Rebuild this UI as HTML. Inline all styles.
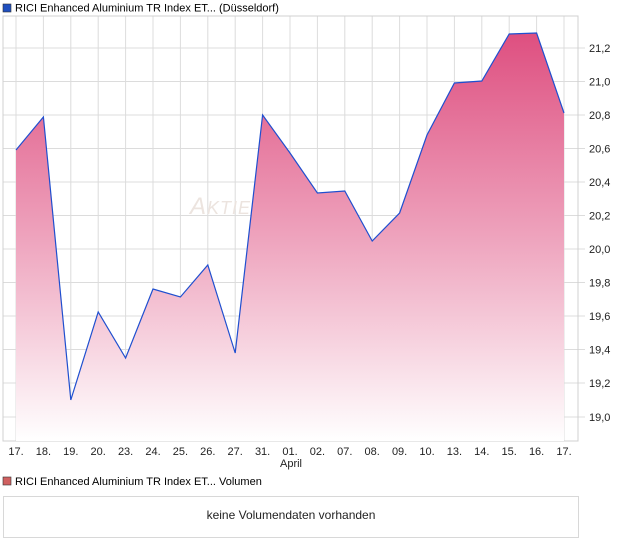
<!DOCTYPE html>
<html><head><meta charset="utf-8"><style>
body{margin:0;background:#fff;width:620px;height:546px;overflow:hidden;font-family:"Liberation Sans",sans-serif}
</style></head><body>
<svg width="620" height="546" xmlns="http://www.w3.org/2000/svg" font-family="Liberation Sans, sans-serif" font-size="11">
<defs><linearGradient id="g" x1="0" y1="33" x2="0" y2="441" gradientUnits="userSpaceOnUse">
<stop offset="0" stop-color="#de4f80"/><stop offset="0.5" stop-color="#eea3bd"/><stop offset="1" stop-color="#ffffff"/></linearGradient></defs>
<rect x="3" y="4" width="8" height="8" fill="#1f4fbf" stroke="#333" stroke-width="0.6"/>
<text x="15" y="11.5">RICI Enhanced Aluminium TR Index ET... (Düsseldorf)</text>
<g stroke="#dcdcdc" stroke-width="1">
<line x1="3" y1="48" x2="585" y2="48"/><line x1="3" y1="81.5" x2="585" y2="81.5"/><line x1="3" y1="115" x2="585" y2="115"/><line x1="3" y1="148.5" x2="585" y2="148.5"/><line x1="3" y1="182" x2="585" y2="182"/><line x1="3" y1="215.5" x2="585" y2="215.5"/><line x1="3" y1="249" x2="585" y2="249"/><line x1="3" y1="282.5" x2="585" y2="282.5"/><line x1="3" y1="316" x2="585" y2="316"/><line x1="3" y1="349.5" x2="585" y2="349.5"/><line x1="3" y1="383" x2="585" y2="383"/><line x1="3" y1="417" x2="585" y2="417"/>
<line x1="16" y1="16" x2="16" y2="441"/><line x1="43.4" y1="16" x2="43.4" y2="441"/><line x1="70.8" y1="16" x2="70.8" y2="441"/><line x1="98.2" y1="16" x2="98.2" y2="441"/><line x1="125.6" y1="16" x2="125.6" y2="441"/><line x1="153" y1="16" x2="153" y2="441"/><line x1="180.4" y1="16" x2="180.4" y2="441"/><line x1="207.8" y1="16" x2="207.8" y2="441"/><line x1="235.2" y1="16" x2="235.2" y2="441"/><line x1="262.6" y1="16" x2="262.6" y2="441"/><line x1="290" y1="16" x2="290" y2="441"/><line x1="317.4" y1="16" x2="317.4" y2="441"/><line x1="344.8" y1="16" x2="344.8" y2="441"/><line x1="372.2" y1="16" x2="372.2" y2="441"/><line x1="399.6" y1="16" x2="399.6" y2="441"/><line x1="427" y1="16" x2="427" y2="441"/><line x1="454.4" y1="16" x2="454.4" y2="441"/><line x1="481.8" y1="16" x2="481.8" y2="441"/><line x1="509.2" y1="16" x2="509.2" y2="441"/><line x1="536.6" y1="16" x2="536.6" y2="441"/><line x1="564" y1="16" x2="564" y2="441"/>
</g>
<rect x="3" y="16" width="575" height="425" fill="none" stroke="#d0d0d0"/>
<text x="190" y="214" font-size="24" font-style="italic" fill="#ece4df" letter-spacing="1">A<tspan font-size="18">KTIE</tspan></text>
<polygon fill="url(#g)" points="16,441 16,150 43.4,117 70.8,400 98.2,312 125.6,358 153,289 180.4,297 207.8,265 235.2,353 262.6,115 290,153 317.4,193 344.8,191 372.2,241 399.6,213 427,135 454.4,83 481.8,81 509.2,34 536.6,33 564,113 564,441"/>
<polyline fill="none" stroke="#1f4fcf" stroke-width="1.2" points="16,150 43.4,117 70.8,400 98.2,312 125.6,358 153,289 180.4,297 207.8,265 235.2,353 262.6,115 290,153 317.4,193 344.8,191 372.2,241 399.6,213 427,135 454.4,83 481.8,81 509.2,34 536.6,33 564,113"/>
<g fill="#222">
<text x="589" y="52">21,2</text><text x="589" y="85.5">21,0</text><text x="589" y="119">20,8</text><text x="589" y="152.5">20,6</text><text x="589" y="186">20,4</text><text x="589" y="219.5">20,2</text><text x="589" y="253">20,0</text><text x="589" y="286.5">19,8</text><text x="589" y="320">19,6</text><text x="589" y="353.5">19,4</text><text x="589" y="387">19,2</text><text x="589" y="421">19,0</text>
</g>
<g fill="#222" text-anchor="middle">
<text x="16" y="455">17.</text><text x="43.4" y="455">18.</text><text x="70.8" y="455">19.</text><text x="98.2" y="455">20.</text><text x="125.6" y="455">23.</text><text x="153" y="455">24.</text><text x="180.4" y="455">25.</text><text x="207.8" y="455">26.</text><text x="235.2" y="455">27.</text><text x="262.6" y="455">31.</text><text x="290" y="455">01.</text><text x="317.4" y="455">02.</text><text x="344.8" y="455">07.</text><text x="372.2" y="455">08.</text><text x="399.6" y="455">09.</text><text x="427" y="455">10.</text><text x="454.4" y="455">13.</text><text x="481.8" y="455">14.</text><text x="509.2" y="455">15.</text><text x="536.6" y="455">16.</text><text x="564" y="455">17.</text>
<text x="291" y="467">April</text>
</g>
<rect x="3" y="477" width="8" height="8" fill="#d06060" stroke="#333" stroke-width="0.6"/>
<text x="15" y="485">RICI Enhanced Aluminium TR Index ET... Volumen</text>
<rect x="3.5" y="496.5" width="575" height="41" fill="none" stroke="#d8d8d8"/>
<text x="291" y="519" font-size="12" text-anchor="middle" fill="#222">keine Volumendaten vorhanden</text>
</svg>
</body></html>
